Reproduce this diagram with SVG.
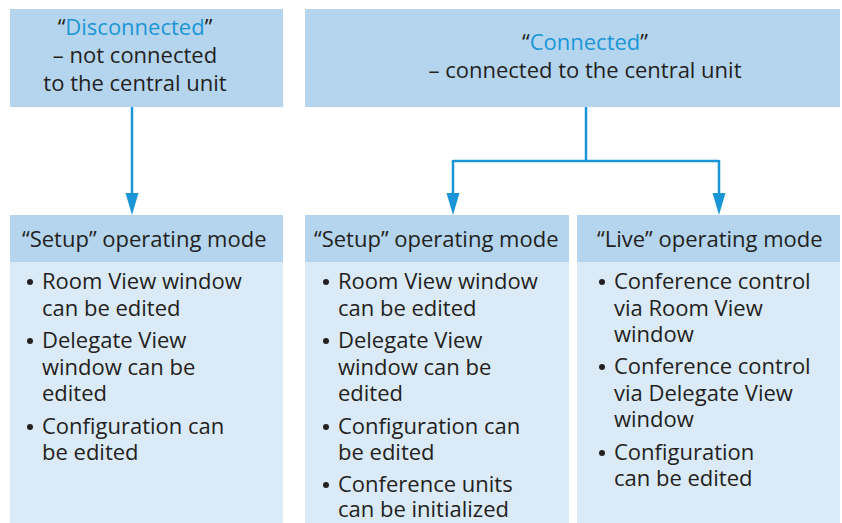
<svg xmlns="http://www.w3.org/2000/svg" width="842" height="523" viewBox="0 0 842 523">
<defs>
<style>
.hd{fill:#b5d5ee}
.bd{fill:#daeaf7}
text{font-family:"Open Sans","Noto Sans","Liberation Sans",sans-serif;font-size:22px;fill:#231f20}
.c{text-anchor:middle}
.bl{fill:#1a96d6}
.ln{fill:none;stroke:#1a96d6;stroke-width:2.5}
.dot{fill:#231f20}
</style>
</defs>
<g id="disconnected">
<rect class="hd" x="10" y="9" width="273" height="98"/>
<text class="c" x="135" y="35">“<tspan class="bl">Disconnected</tspan>”</text>
<text class="c" x="135" y="63">– not connected</text>
<text class="c" x="135" y="91">to the central unit</text>
</g>
<g id="connected">
<rect class="hd" x="305" y="9" width="535" height="98"/>
<text class="c" x="585" y="50">“<tspan class="bl">Connected</tspan>”</text>
<text class="c" x="585" y="78">– connected to the central unit</text>
</g>
<g id="connectors">
<path class="ln" d="M132,107 V203"/>
<path d="M125.5,193 L138.5,193 L132,215 Z" class="bl"/>
<path class="ln" d="M586,107 V161 M453,161 H719 M453,160 V203 M719,160 V203"/>
<path d="M446.5,193 L459.5,193 L453,215 Z" class="bl"/>
<path d="M712.5,193 L725.5,193 L719,215 Z" class="bl"/>
</g>
<g id="setup-disconnected">
<rect class="hd" x="10" y="215" width="273" height="47"/>
<rect class="bd" x="10" y="262" width="273" height="261"/>
<text x="22" y="247">“Setup” operating mode</text>
<circle class="dot" cx="30" cy="282" r="3"/>
<text x="42" y="289">Room View window</text>
<text x="42" y="316">can be edited</text>
<circle class="dot" cx="30" cy="341" r="3"/>
<text x="42" y="348">Delegate View</text>
<text x="42" y="375">window can be</text>
<text x="42" y="401">edited</text>
<circle class="dot" cx="30" cy="427" r="3"/>
<text x="42" y="434">Configuration can</text>
<text x="42" y="460">be edited</text>
</g>
<g id="setup-connected">
<rect class="hd" x="305" y="215" width="264" height="47"/>
<rect class="bd" x="305" y="262" width="264" height="261"/>
<text x="314" y="247">“Setup” operating mode</text>
<circle class="dot" cx="326" cy="282" r="3"/>
<text x="338" y="289">Room View window</text>
<text x="338" y="316">can be edited</text>
<circle class="dot" cx="326" cy="341" r="3"/>
<text x="338" y="348">Delegate View</text>
<text x="338" y="375">window can be</text>
<text x="338" y="401">edited</text>
<circle class="dot" cx="326" cy="427" r="3"/>
<text x="338" y="434">Configuration can</text>
<text x="338" y="460">be edited</text>
<circle class="dot" cx="326" cy="485" r="3"/>
<text x="338" y="492">Conference units</text>
<text x="338" y="517">can be initialized</text>
</g>
<g id="live">
<rect class="hd" x="577" y="215" width="263" height="47"/>
<rect class="bd" x="577" y="262" width="263" height="261"/>
<text x="597" y="247">“Live” operating mode</text>
<circle class="dot" cx="602" cy="282" r="3"/>
<text x="614" y="289">Conference control</text>
<text x="614" y="316">via Room View</text>
<text x="614" y="342">window</text>
<circle class="dot" cx="602" cy="367" r="3"/>
<text x="614" y="374">Conference control</text>
<text x="614" y="401">via Delegate View</text>
<text x="614" y="427">window</text>
<circle class="dot" cx="602" cy="453" r="3"/>
<text x="614" y="460">Configuration</text>
<text x="614" y="486">can be edited</text>
</g>
</svg>
